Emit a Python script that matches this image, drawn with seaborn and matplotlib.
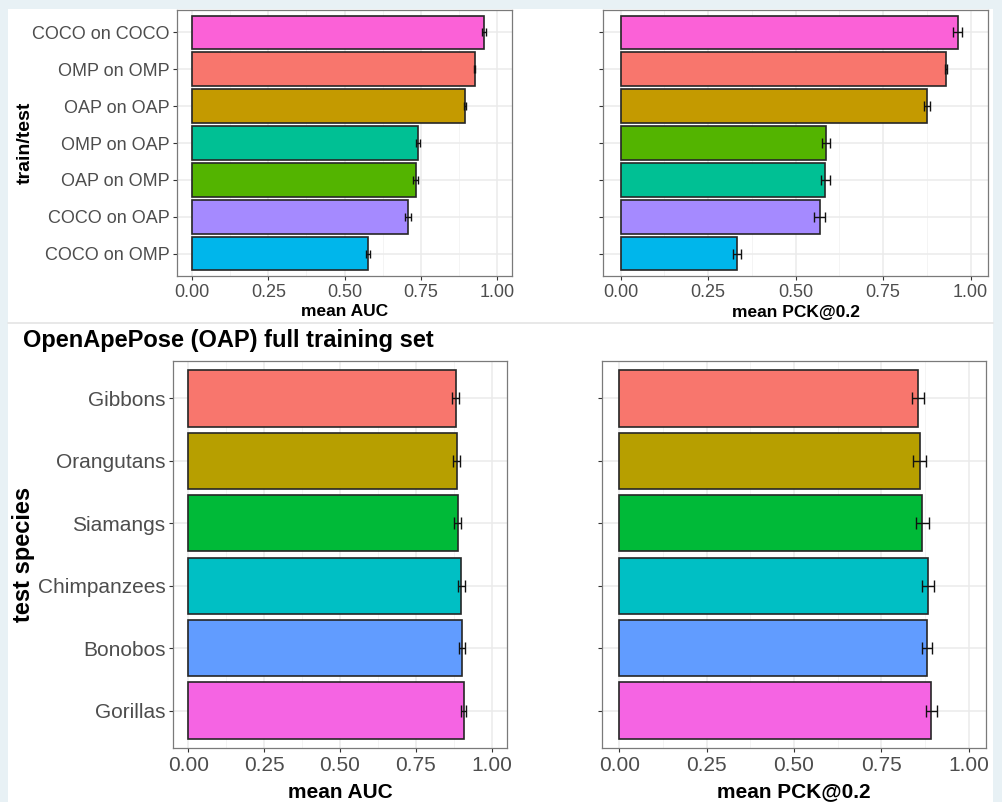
import numpy as np
import pandas as pd
import matplotlib
matplotlib.use("Agg")
import matplotlib.pyplot as plt
import seaborn as sns
from matplotlib.patches import Rectangle
from matplotlib.lines import Line2D
from matplotlib.ticker import MultipleLocator

# ---- data ----
pair_labels = ["COCO on COCO", "OMP on OMP", "OAP on OAP", "OMP on OAP",
               "OAP on OMP", "COCO on OAP", "COCO on OMP"]
pair_auc = [0.957, 0.928, 0.897, 0.741, 0.734, 0.709, 0.577]
pair_auc_err = [0.007, 0.002, 0.003, 0.0075, 0.0075, 0.010, 0.0075]

pair_labels_pck = ["COCO on COCO", "OMP on OMP", "OAP on OAP", "OAP on OMP",
                   "OMP on OAP", "COCO on OAP", "COCO on OMP"]
pair_pck = [0.963, 0.930, 0.876, 0.588, 0.585, 0.569, 0.333]
pair_pck_err = [0.0125, 0.004, 0.0086, 0.011, 0.0124, 0.016, 0.011]

pair_colors = {"COCO on COCO": "#FB61D7", "OMP on OMP": "#F8766D",
               "OAP on OAP": "#C49A00", "OMP on OAP": "#00C094",
               "OAP on OMP": "#53B400", "COCO on OAP": "#A58AFF",
               "COCO on OMP": "#00B6EB"}

species = ["Gibbons", "Orangutans", "Siamangs", "Chimpanzees", "Bonobos", "Gorillas"]
species_auc = [0.881, 0.885, 0.888, 0.900, 0.902, 0.907]
species_auc_err = [0.011, 0.0115, 0.0115, 0.0104, 0.010, 0.0087]
species_pck = [0.856, 0.860, 0.868, 0.883, 0.881, 0.893]
species_pck_err = [0.0177, 0.019, 0.018, 0.0177, 0.0157, 0.016]
species_colors = ["#F8766D", "#B79F00", "#00BA38", "#00BFC4", "#619CFF", "#F564E3"]

xticks = [0.00, 0.25, 0.50, 0.75, 1.00]

sns.set_style("white")
plt.rcParams['font.family'] = ['Liberation Sans', 'DejaVu Sans']

W, H = 1002, 802
fig = plt.figure(figsize=(W / 100, H / 100), dpi=100)
fig.patch.set_facecolor("#E8F1F5")
fig.patches.append(Rectangle((8 / W, 0), (993 - 8) / W, 1 - 9 / H,
                             transform=fig.transFigure, facecolor="white",
                             edgecolor="none", zorder=-2))
fig.lines.append(Line2D([8 / W, 993 / W], [1 - 323.5 / H] * 2,
                        transform=fig.transFigure, color="#E4E4E4", lw=1.2,
                        zorder=-1))


def box(x0, y0, x1, y1):
    return [x0 / W, 1 - y1 / H, (x1 - x0) / W, (y1 - y0) / H]


def panel(ax, labels, vals, errs, palette, show_labels, tick_fs, title_fs,
          xlabel, cap, label_y):
    df = pd.DataFrame({"cat": labels, "val": vals})
    sns.barplot(data=df, x="val", y="cat", hue="cat", palette=palette,
                order=labels, hue_order=labels, legend=False, ax=ax,
                width=0.9, edgecolor="#262626", linewidth=1.2, saturation=1)
    ax.errorbar(vals, np.arange(len(labels)), xerr=errs, fmt="none",
                ecolor="#111111", elinewidth=1.0, capsize=cap, capthick=1.0,
                zorder=5)
    n = len(labels)
    ax.set_xlim(-0.05, 1.05)
    ax.set_ylim(n - 1 + 0.6, -0.6)
    ax.set_xticks(xticks)
    ax.set_xticklabels([f"{t:.2f}" for t in xticks])
    ax.xaxis.set_minor_locator(MultipleLocator(0.125))
    ax.grid(True, which="major", color="#EBEBEB", lw=1.1)
    ax.grid(True, which="minor", axis="x", color="#F2F2F2", lw=0.6)
    ax.set_axisbelow(True)
    for s in ax.spines.values():
        s.set_color("#7A7A7A")
        s.set_linewidth(0.9)
    ax.tick_params(axis="both", which="major", length=3, width=0.8,
                   color="#333333", labelcolor="#4D4D4D", labelsize=tick_fs,
                   pad=2.5, left=True, bottom=True)
    ax.tick_params(axis="x", which="minor", length=0)
    if not show_labels:
        ax.set_yticklabels([])
    ax.set_ylabel("")
    ax.set_xlabel(xlabel, fontsize=title_fs, fontweight="bold", color="black")
    ax.xaxis.set_label_coords(0.5, label_y)
    ax.xaxis.label.set_va("center")


ax1 = fig.add_axes(box(177, 10, 512, 276))
ax2 = fig.add_axes(box(603, 10, 988, 276))
ax3 = fig.add_axes(box(173, 361, 507, 748))
ax4 = fig.add_axes(box(602, 361, 986, 748))

panel(ax1, pair_labels, pair_auc, pair_auc_err, pair_colors, True, 13, 12.5,
      "mean AUC", 3, -(312 - 276) / 266)
panel(ax2, pair_labels_pck, pair_pck, pair_pck_err, pair_colors, False, 13, 12.5,
      "mean PCK@0.2", 3.5, -(312 - 276) / 266)
panel(ax3, species, species_auc, species_auc_err, species_colors, True, 15, 15,
      "mean AUC", 4, -(792 - 748) / 387)
panel(ax4, species, species_pck, species_pck_err, species_colors, False, 15, 15,
      "mean PCK@0.2", 4, -(792 - 748) / 387)

ax1.set_ylabel("train/test", fontsize=14, fontweight="bold", color="black")
ax1.yaxis.set_label_coords((25 - 177) / 335, 0.5)
ax1.yaxis.label.set_va("center")
ax3.set_ylabel("test species", fontsize=17, fontweight="bold", color="black")
ax3.yaxis.set_label_coords((23 - 173) / 334, 0.5)
ax3.yaxis.label.set_va("center")

fig.text(23 / W, 1 - 340 / H, "OpenApePose (OAP) full training set",
         fontsize=17, fontweight="bold", color="black", ha="left", va="center")

fig.savefig("out.png", dpi=100, facecolor=fig.get_facecolor())
